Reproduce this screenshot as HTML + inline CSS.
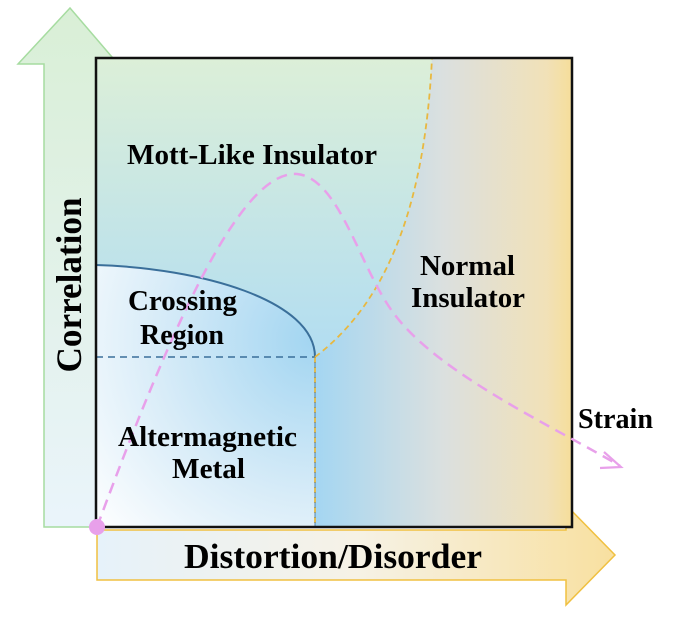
<!DOCTYPE html>
<html><head><meta charset="utf-8"><style>
html,body{margin:0;padding:0;background:#fff;}
svg{display:block;font-family:"Liberation Serif",serif;font-weight:bold;}
</style></head><body>
<svg width="686" height="622" viewBox="0 0 686 622" xmlns="http://www.w3.org/2000/svg">
<defs>
<linearGradient id="ya" x1="0" y1="1" x2="0" y2="0">
<stop offset="0" stop-color="#eaf4fb"/><stop offset="1" stop-color="#d9efd6"/></linearGradient>
<linearGradient id="xa" x1="0" y1="0" x2="1" y2="0">
<stop offset="0" stop-color="#e6f2fa"/><stop offset="0.5" stop-color="#f6f2e6"/><stop offset="1" stop-color="#f8e0a0"/></linearGradient>
<linearGradient id="mott" x1="0" y1="0" x2="0" y2="1">
<stop offset="0" stop-color="#dcefd8"/><stop offset="0.6" stop-color="#b4def0"/><stop offset="1" stop-color="#a8d8f2"/></linearGradient>
<radialGradient id="cm" cx="315" cy="340" r="290" gradientUnits="userSpaceOnUse">
<stop offset="0" stop-color="#a2d5f1"/><stop offset="0.55" stop-color="#d8ecf8"/><stop offset="1" stop-color="#ffffff"/></radialGradient>
<linearGradient id="rt" x1="315" y1="0" x2="572" y2="0" gradientUnits="userSpaceOnUse">
<stop offset="0" stop-color="#a4d6f2"/><stop offset="0.5" stop-color="#dbe0df"/><stop offset="0.9" stop-color="#f1e1b8"/><stop offset="1" stop-color="#f6de9a"/></linearGradient>
</defs>
<path d="M44,527 L44,64 L18,64 L70,8 L118,64 L96,64 L96,527 Z" fill="url(#ya)" stroke="#a6dca0" stroke-width="1.5"/>
<text transform="translate(81,285) rotate(-90)" font-size="36" text-anchor="middle" textLength="175" lengthAdjust="spacingAndGlyphs">Correlation</text>
<path d="M97,530 L566,530 L566,505 L615,555 L566,605 L566,580 L97,580 Z" fill="url(#xa)" stroke="#f0c040" stroke-width="1.5"/>
<text x="184" y="568" font-size="35" textLength="298" lengthAdjust="spacingAndGlyphs">Distortion/Disorder</text>
<rect x="96" y="58" width="476" height="469" fill="url(#rt)"/>
<path d="M96,58 L432,58 C425,200 390,300 315,357 L315,527 L96,527 Z" fill="url(#mott)"/>
<path d="M96,265 C200,268 315,300 315,357 L315,527 L96,527 Z" fill="url(#cm)"/>
<path d="M96,265 C200,268 315,300 315,357" fill="none" stroke="#3a6f9a" stroke-width="2"/>
<line x1="96" y1="357" x2="315" y2="357" stroke="#3a6f9a" stroke-width="1.5" stroke-dasharray="7,5"/>
<line x1="315" y1="357" x2="315" y2="527" stroke="#e8b840" stroke-width="1.8" stroke-dasharray="6,4"/>
<line x1="315" y1="357" x2="315" y2="527" stroke="#3a6f9a" stroke-width="0.8" stroke-dasharray="6,4" stroke-dashoffset="5"/>
<path d="M315,357 C390,300 425,200 432,58" fill="none" stroke="#e8b840" stroke-width="1.8" stroke-dasharray="6,4"/>
<rect x="96" y="58" width="476" height="469" fill="none" stroke="#111" stroke-width="2.5"/>
<path d="M97,527 C170,330 240,170 297,174 C340,178 360,270 395,315 C440,375 560,430 620,466" fill="none" stroke="#e8a0ea" stroke-width="2.5" stroke-dasharray="11,7"/>
<path d="M604,452 L621,467 L600,468" fill="none" stroke="#e8a0ea" stroke-width="2.2"/>
<circle cx="97" cy="527" r="8" fill="#e8a0ea"/>
<g font-size="28">
<text x="127" y="164" textLength="250" lengthAdjust="spacingAndGlyphs">Mott-Like Insulator</text>
<text x="420" y="275" textLength="95" lengthAdjust="spacingAndGlyphs">Normal</text>
<text x="411" y="307" textLength="114" lengthAdjust="spacingAndGlyphs">Insulator</text>
<text x="128" y="310" textLength="109" lengthAdjust="spacingAndGlyphs">Crossing</text>
<text x="140" y="344" textLength="84" lengthAdjust="spacingAndGlyphs">Region</text>
<text x="118" y="446" textLength="179" lengthAdjust="spacingAndGlyphs">Altermagnetic</text>
<text x="172" y="478" textLength="73" lengthAdjust="spacingAndGlyphs">Metal</text>
<text x="578" y="428" textLength="75" lengthAdjust="spacingAndGlyphs">Strain</text>
</g>
</svg>
</body></html>
